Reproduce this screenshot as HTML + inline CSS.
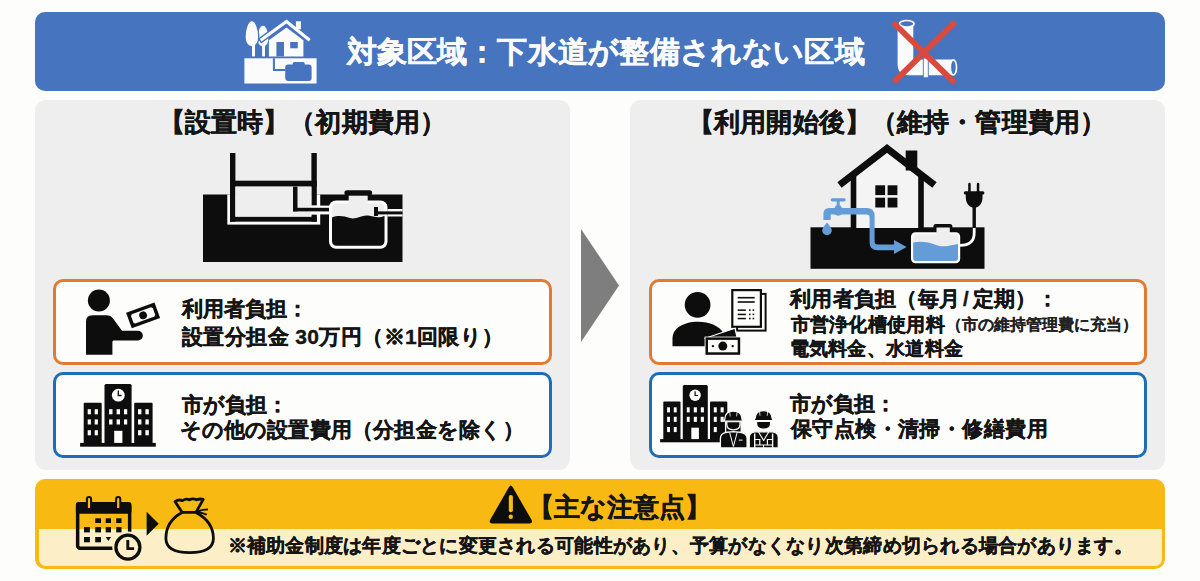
<!DOCTYPE html>
<html lang="ja">
<head>
<meta charset="utf-8">
<title>浄化槽 費用負担</title>
<style>
html,body{margin:0;padding:0;}
body{width:1200px;height:581px;overflow:hidden;background:#FDFDFC;position:relative;font-family:"Liberation Sans",sans-serif;font-weight:bold;color:#151515;}
.abs{position:absolute;}
.t{position:absolute;white-space:nowrap;line-height:1;-webkit-text-stroke:0.35px currentColor;}
.banner{left:35px;top:12px;width:1130px;height:79px;background:#4674BF;border-radius:10px;}
.panel{top:100px;height:370px;background:#EEEEEF;border-radius:11px;}
.box{width:493px;height:80px;border:3px solid;border-radius:10px;background:#FDFDFC;}
.or{border-color:#E07B33;}
.bl{border-color:#1F6DB6;}
.yel{left:35px;top:479px;width:1130px;height:90px;background:#F8BA12;border-radius:10px;}
.cream{left:38.5px;top:529px;width:1123px;height:36.5px;background:#FCEFC8;border-radius:0 0 7px 7px;}
svg.ov{position:absolute;left:0;top:0;}
</style>
</head>
<body>
<div class="abs banner"></div>
<div class="abs panel" style="left:35px;width:535px;"></div>
<div class="abs panel" style="left:630px;width:535px;"></div>
<div class="abs box or" style="left:53px;top:279px;"></div>
<div class="abs box bl" style="left:53px;top:372px;"></div>
<div class="abs box or" style="left:649px;top:279px;width:492px;"></div>
<div class="abs box bl" style="left:649px;top:372px;width:492px;"></div>
<div class="abs yel"></div>
<div class="abs cream"></div>

<svg class="ov" width="1200" height="581" viewBox="0 0 1200 581">
<!-- middle arrow -->
<polygon points="581,229 619,285.5 581,342" fill="#7E7E7E"/>

<!-- banner house icon -->
<g id="bhouse">
 <path d="M263,25.7 C266.5,25.7 268.3,33 268.3,38.5 C268.3,43.5 266,46.4 263,46.4 C260,46.4 257.6,43.5 257.6,38.5 C257.6,33 259.5,25.7 263,25.7Z" fill="#FBFBFB"/>
 <rect x="262.1" y="44" width="2.9" height="12.4" fill="#FBFBFB"/>
 <path d="M251.8,20.7 C256.3,20.7 258.8,30 258.8,37 C258.8,43 255.5,47 251.9,47 C248,47 245,43 245,37 C245,30 247.5,20.7 251.8,20.7Z" fill="#FBFBFB" stroke="#4674BF" stroke-width="1.3"/>
 <rect x="252" y="44" width="3" height="12.4" fill="#FBFBFB"/>
 <polyline points="259.5,41.2 286.5,21.4 310.8,41.2" fill="none" stroke="#4674BF" stroke-width="6"/>
 <rect x="295.9" y="21.3" width="5" height="8" fill="#FBFBFB"/>
 <polyline points="260.7,40.2 286.5,21.4 309.7,40.2" fill="none" stroke="#FBFBFB" stroke-width="3.2"/>
 <path d="M268.9,56.4 V40.3 L286.5,27.4 L303.4,40.3 V56.4 Z" fill="#FBFBFB"/>
 <rect x="276.4" y="42" width="7.6" height="14.4" fill="#4674BF"/>
 <rect x="290.2" y="42" width="7.6" height="6.3" fill="#4674BF"/>
 <rect x="244.4" y="58.3" width="72.2" height="25.2" fill="#FBFBFB"/>
 <path d="M272.9,58.3 H274.9 V69 H285.2 V71 H272.9 Z" fill="#4674BF"/>
 <rect x="285.2" y="64.6" width="26.4" height="16.4" rx="3" fill="#4674BF"/>
 <rect x="292.8" y="62.1" width="11.9" height="4" rx="1.5" fill="#4674BF"/>
</g>

<!-- banner pipe + X -->
<g id="bpipe">
 <path d="M897.6,24 V64 Q897.6,75.3 909,75.3 H953 V59.6 H913.3 V24 Z" fill="#FBFBFB"/>
 <ellipse cx="906.8" cy="23.8" rx="7.3" ry="3.3" fill="#4674BF" stroke="#FBFBFB" stroke-width="1.7"/>
 <rect x="923.3" y="58" width="5" height="19.8" fill="#FBFBFB" stroke="#4674BF" stroke-width="0.9"/>
 <ellipse cx="953.4" cy="67.4" rx="3.1" ry="7.6" fill="#4674BF" stroke="#FBFBFB" stroke-width="1.7"/>
 <g stroke="#D74A3D" stroke-width="5.9">
  <line x1="893.2" y1="22.5" x2="954.7" y2="82.8"/>
  <line x1="955.3" y1="21.9" x2="893.8" y2="82.2"/>
 </g>
</g>

<!-- left tank diagram -->
<g id="ltank">
 <rect x="203" y="194.5" width="199.5" height="67.5" fill="#0D0D0D"/>
 <rect x="227.3" y="194.5" width="92.9" height="30.1" fill="#FDFDFD"/>
 <g fill="#0D0D0D">
  <rect x="230" y="153" width="5.4" height="68.7"/>
  <rect x="311.4" y="153" width="5.4" height="52.6"/>
  <rect x="311.4" y="214.4" width="5.4" height="7.3"/>
  <rect x="230" y="180.7" width="86.8" height="5.9"/>
  <rect x="230" y="216.6" width="86.8" height="5.1"/>
 </g>
 <rect x="235.4" y="186.6" width="76" height="30" fill="#EEEEEF"/>
 <rect x="293" y="186.6" width="4.5" height="24.8" fill="#0D0D0D"/>
 <rect x="311.4" y="205.6" width="20" height="8.8" fill="#FDFDFD"/>
 <rect x="293" y="207.8" width="38" height="3.6" fill="#0D0D0D"/>
 <!-- tank -->
 <rect x="329" y="200.5" width="58.5" height="48.2" rx="7" fill="#FDFDFD"/>
 <rect x="332" y="203.5" width="52.5" height="42.2" rx="5" fill="#EEEEEF"/>
 <rect x="348.7" y="195.4" width="19" height="10" fill="#EEEEEF"/>
 <rect x="344.4" y="190.2" width="27.7" height="5.2" rx="2.5" fill="#0D0D0D"/>
 <path d="M332,217.5 C338,215 344,216 350,218 C356,220 362,214.5 368,215.5 C374,216.5 378,218.5 384.5,216 V240.7 Q384.5,245.7 379.5,245.7 H337 Q332,245.7 332,240.7 Z" fill="#0D0D0D"/>
 <rect x="374" y="207" width="4" height="9" fill="#0D0D0D"/>
 <rect x="387.5" y="209" width="15" height="7.5" fill="#FDFDFD"/>
 <rect x="378" y="211.4" width="24.5" height="3" fill="#0D0D0D"/>
</g>

<!-- right house diagram -->
<g id="rhouse">
 <rect x="810.5" y="227.3" width="174" height="41.5" fill="#0D0D0D"/>
 <path d="M853,228 V178 L887,152 L921,178 V228 Z" fill="#F4F4F4"/>
 <rect x="905.7" y="150.5" width="11.6" height="20" fill="#0D0D0D"/>
 <polyline points="839.5,185 887,148.5 934.5,185" fill="none" stroke="#0D0D0D" stroke-width="7"/>
 <rect x="850.7" y="176" width="5.6" height="52" fill="#0D0D0D"/>
 <rect x="918.2" y="176" width="5.6" height="52" fill="#0D0D0D"/>
 <g fill="#0D0D0D">
  <rect x="875.3" y="185.3" width="9.8" height="9.8"/>
  <rect x="887.6" y="185.3" width="9.8" height="9.8"/>
  <rect x="875.3" y="197.7" width="9.8" height="9.8"/>
  <rect x="887.6" y="197.7" width="9.8" height="9.8"/>
 </g>
 <!-- faucet + pipe -->
 <g fill="#639CD7">
  <rect x="830.7" y="198.2" width="15" height="3.2" rx="1.6"/>
  <rect x="836.7" y="200.5" width="3" height="6.5"/>
  <path d="M834.2,208.5 L836,205.6 H840.5 L842.3,208.5 Z"/>
  <path d="M823.4,220.1 V214.1 Q823.4,208.1 829.4,208.1 H866.6 Q874.6,208.1 874.6,216.1 V241.5 Q874.6,244.5 877.6,244.5 H895 V250.2 H877.6 Q869.6,250.2 869.6,242.2 V217.4 Q869.6,214.4 866.6,214.4 H830.7 V220.1 Z"/>
  <path d="M834.5,214 Q838.2,217.5 842,214 Z"/>
  <polygon points="894,240 906.6,247 894,253.9"/>
  <path d="M827,222.5 Q831.8,228 831.8,230.4 A4.8,4.8 0 0 1 822.2,230.4 Q822.2,228 827,222.5 Z"/>
 </g>
 <!-- tank -->
 <rect x="911" y="232.2" width="49.2" height="31.1" rx="4.5" fill="#FDFDFD"/>
 <rect x="913.2" y="234.4" width="44.8" height="26.7" rx="3" fill="#EEEEEE"/>
 <rect x="933.4" y="224" width="19" height="5.5" rx="2.5" fill="#0D0D0D"/>
 <rect x="936.5" y="227.5" width="13.3" height="8" fill="#EEEEEE"/>
 <path d="M913.2,242.6 C920,241 928,242 936,245 C944,248 950,245 958,243.9 V258.1 Q958,261.1 955,261.1 H916.2 Q913.2,261.1 913.2,258.1 Z" fill="#639CD7"/>
 <!-- cord + plug -->
 <path d="M960,245.4 Q974.2,245.4 974.2,233 V227" fill="none" stroke="#FDFDFD" stroke-width="2.8"/>
 <path d="M974.2,228 V205" fill="none" stroke="#0D0D0D" stroke-width="3.4"/>
 <rect x="968.2" y="182.8" width="2.5" height="10" rx="1.2" fill="#0D0D0D"/>
 <rect x="976.8" y="182.8" width="2.5" height="10" rx="1.2" fill="#0D0D0D"/>
 <rect x="963.8" y="191.2" width="20.6" height="3.2" rx="1.5" fill="#0D0D0D"/>
 <path d="M965.8,193.5 H982.5 V197.5 C982.5,203.5 979,206.6 976.2,207.6 H972.2 C969.4,206.6 965.8,203.5 965.8,197.5 Z" fill="#0D0D0D"/>
</g>

<!-- left orange: person with bill -->
<g id="lperson" fill="#0D0D0D">
 <circle cx="98.9" cy="300.5" r="11"/>
 <path d="M86,354.7 V321.5 Q86,315.3 92.5,315.3 H106.5 Q110.5,315.3 113,318.5 L122,330.8 H138 A4.85,4.85 0 0 1 138,340.5 H113.5 Q112.4,340.5 112.4,342 V354.7 Z"/>
 <g transform="translate(143.1,315.35) rotate(-20.1)">
  <rect x="-15.1" y="-8.25" width="30.2" height="16.5"/>
  <path d="M-10.3,-4.9 H10.3 L11.6,-3.6 V3.6 L10.3,4.9 H-10.3 L-11.6,3.6 V-3.6 Z" fill="#FDFDFC"/>
  <circle cx="0" cy="0" r="3.9"/>
 </g>
</g>

<!-- left blue: building -->
<g id="lbuild">
 <g fill="#0D0D0D">
  <rect x="80.1" y="442.9" width="75.7" height="3.8"/>
  <rect x="83.7" y="402.8" width="18" height="41" rx="1"/>
  <rect x="104.5" y="384.1" width="27.1" height="60" rx="1.5"/>
  <rect x="134.2" y="402.8" width="18.4" height="41" rx="1"/>
 </g>
 <circle cx="118.3" cy="395.2" r="6.4" fill="#FDFDFC"/>
 <path d="M118.3,390.6 V395.5 H121.6" fill="none" stroke="#0D0D0D" stroke-width="1.3"/>
 <g fill="#FDFDFC">
  <rect x="87.7" y="409.2" width="3.2" height="5.1"/><rect x="94.7" y="409.2" width="3.2" height="5.1"/>
  <rect x="87.7" y="419.4" width="3.2" height="5.1"/><rect x="94.7" y="419.4" width="3.2" height="5.1"/>
  <rect x="87.7" y="430.2" width="3.2" height="5.1"/><rect x="94.7" y="430.2" width="3.2" height="5.1"/>
  <rect x="109.1" y="409.2" width="3.4" height="5.1"/><rect x="116.6" y="409.2" width="3.4" height="5.1"/><rect x="124" y="409.2" width="3.2" height="5.1"/>
  <rect x="109.1" y="419.4" width="3.4" height="5.1"/><rect x="116.6" y="419.4" width="3.4" height="5.1"/><rect x="124" y="419.4" width="3.2" height="5.1"/>
  <rect x="114.2" y="430.8" width="8.2" height="12.1"/>
  <rect x="138" y="409.2" width="3.4" height="5.1"/><rect x="145.4" y="409.2" width="3.4" height="5.1"/>
  <rect x="138" y="419.4" width="3.4" height="5.1"/><rect x="145.4" y="419.4" width="3.4" height="5.1"/>
  <rect x="138" y="430.2" width="3.4" height="5.1"/><rect x="145.4" y="430.2" width="3.4" height="5.1"/>
 </g>
</g>

<!-- right orange: person, documents, bills -->
<g id="rperson">
 <circle cx="697.6" cy="304.8" r="12.9" fill="#0D0D0D"/>
 <path d="M672.5,346.2 V338.5 C672.5,327.5 685,321.8 697.6,321.8 C710,321.8 719.5,326.5 723,332.5 V346.2 Z" fill="#0D0D0D"/>
 <rect x="737.1" y="293.9" width="28.5" height="36.7" fill="#FDFDFC" stroke="#0D0D0D" stroke-width="2"/>
 <rect x="732.3" y="290.1" width="28.6" height="36.7" fill="#FDFDFC" stroke="#0D0D0D" stroke-width="2.2"/>
 <g fill="#0D0D0D">
  <rect x="737.7" y="296.9" width="17" height="1.6"/>
  <rect x="737.7" y="301.2" width="17" height="1.6"/>
  <rect x="737.7" y="309.4" width="8.2" height="1.5"/><rect x="749" y="309.3" width="1.6" height="1.6"/><rect x="752.6" y="309.3" width="1.6" height="1.6"/>
  <rect x="737.7" y="313.7" width="8.2" height="1.5"/><rect x="749" y="313.6" width="1.6" height="1.6"/><rect x="752.6" y="313.6" width="1.6" height="1.6"/>
  <rect x="737.7" y="317.8" width="8.2" height="1.5"/><rect x="749" y="317.7" width="1.6" height="1.6"/><rect x="752.6" y="317.7" width="1.6" height="1.6"/>
 </g>
 <polygon points="704.5,338.5 735,328.3 737.3,338.5" fill="#0D0D0D" stroke="#FDFDFC" stroke-width="1.2"/>
 <rect x="704.6" y="336.6" width="36.4" height="19" fill="#FDFDFC"/>
 <rect x="705.5" y="337.4" width="34.7" height="17.4" fill="#0D0D0D"/>
 <rect x="708" y="339.9" width="29.7" height="12.4" fill="#FDFDFC"/>
 <circle cx="722.8" cy="346.1" r="4.5" fill="#0D0D0D"/>
 <circle cx="712.9" cy="346.1" r="1.2" fill="#0D0D0D"/>
 <circle cx="732.7" cy="346.1" r="1.2" fill="#0D0D0D"/>
</g>

<!-- right blue: building + workers -->
<g id="rbuild">
 <g fill="#0D0D0D">
  <rect x="660.1" y="439.1" width="63.7" height="3.2"/>
  <rect x="663.3" y="401.6" width="17.2" height="39" rx="1"/>
  <rect x="682.8" y="385" width="25" height="55" rx="1.5"/>
  <rect x="710" y="401.6" width="17.3" height="39" rx="1"/>
 </g>
 <circle cx="695.1" cy="395.2" r="5.7" fill="#FDFDFC"/>
 <path d="M695.1,391.3 V395.5 H698" fill="none" stroke="#0D0D0D" stroke-width="1.2"/>
 <g fill="#FDFDFC">
  <rect x="667.1" y="407.3" width="2.9" height="5.1"/><rect x="673.8" y="407.3" width="2.9" height="5.1"/>
  <rect x="667.1" y="416.8" width="2.9" height="5.1"/><rect x="673.8" y="416.8" width="2.9" height="5.1"/>
  <rect x="667.1" y="427" width="2.9" height="5.1"/><rect x="673.8" y="427" width="2.9" height="5.1"/>
  <rect x="686.8" y="407.3" width="2.9" height="5.1"/><rect x="693.8" y="407.3" width="3.1" height="5.1"/><rect x="700.8" y="407.3" width="3.1" height="5.1"/>
  <rect x="686.8" y="416.8" width="2.9" height="5.1"/><rect x="693.8" y="416.8" width="3.1" height="5.1"/><rect x="700.8" y="416.8" width="3.1" height="5.1"/>
  <rect x="691.3" y="427.7" width="7.6" height="11.4"/>
  <rect x="713.8" y="407.3" width="3" height="5.1"/><rect x="720.6" y="407.3" width="3.1" height="5.1"/>
  <rect x="713.8" y="416.8" width="3" height="5.1"/><rect x="720.6" y="416.8" width="3.1" height="5.1"/>
  <rect x="713.8" y="427" width="3" height="5.1"/>
 </g>
 <!-- worker 1 -->
 <g fill="#0D0D0D" stroke="#FDFDFC" stroke-width="1.3">
  <path d="M725.6,421.5 V432.5 H741.2 V421.5 Z"/>
  <path d="M720.4,448 V438.5 Q720.4,433.2 726.5,432.3 L733.4,431.6 L740.3,432.3 Q747.1,433.2 747.1,438.5 V448 Z"/>
  <path d="M726.8,421.6 H740 V424.6 Q740,429.8 733.4,429.8 Q726.8,429.8 726.8,424.6 Z"/>
  <path d="M723.8,421.2 L724.8,419 Q725.3,411.2 733.4,411.2 Q741.5,411.2 742,419 L743,421.2 Z"/>
 </g>
 <g fill="none" stroke="#FDFDFC">
  <path d="M729.6,432.4 L733.4,446.5 L737.2,432.4" stroke-width="1"/>
  <path d="M729.8,412.4 L730.2,416.4 M737,412.4 L736.6,416.4" stroke-width="0.8"/>
 </g>
 <rect x="738.8" y="439.6" width="3.8" height="1" fill="#FDFDFC"/>
 <!-- worker 2 -->
 <g fill="#0D0D0D" stroke="#FDFDFC" stroke-width="1.3">
  <path d="M749.2,448 V437.5 Q749.2,432.4 755,431.8 H772.5 Q778.3,432.4 778.3,437.5 V448 Z"/>
  <path d="M756.6,421.3 H770.6 V423.8 Q770.6,429.2 763.6,429.2 Q756.6,429.2 756.6,423.8 Z"/>
  <path d="M753.9,420.6 L755,418.4 Q755.5,410.6 763.6,410.6 Q771.7,410.6 772.2,418.4 L773.3,420.6 Z"/>
 </g>
 <g fill="none" stroke="#FDFDFC">
  <path d="M758.5,432 L763.6,440.5 L768.7,432" stroke-width="1.1"/>
  <path d="M754.7,433.5 V448 M772.6,433.5 V448" stroke-width="1.4"/>
  <path d="M754.7,439.5 H759.8 V445 M772.6,439.5 H767.4 V445 M754.7,445 H772.6" stroke-width="1.2"/>
  <path d="M763.6,445 V448" stroke-width="1"/>
  <path d="M759.6,411.8 L760,415.8 M767.6,411.8 L767.2,415.8" stroke-width="0.8"/>
 </g>
</g>

<!-- yellow banner icons -->
<g id="cal">
 <rect x="77.65" y="503.65" width="52" height="44.5" rx="2.5" fill="none" stroke="#0D0D0D" stroke-width="3.5"/>
 <rect x="75.9" y="501.9" width="55.5" height="11.8" rx="2.5" fill="#0D0D0D"/>
 <path d="M86.9,508 V499.2 A2.1,2.1 0 0 1 91.1,499.2 V508" fill="#F8BA12" stroke="#0D0D0D" stroke-width="2"/>
 <path d="M116.1,508 V499.2 A2.1,2.1 0 0 1 120.3,499.2 V508" fill="#F8BA12" stroke="#0D0D0D" stroke-width="2"/>
 <g fill="#0D0D0D">
  <rect x="95.2" y="518.3" width="5.8" height="4.7"/><rect x="105.7" y="518.3" width="5.3" height="4.7"/><rect x="116.2" y="518.3" width="5.3" height="4.7"/>
  <rect x="84" y="527.1" width="5.9" height="5.3"/><rect x="95.2" y="527.1" width="5.8" height="5.3"/><rect x="105.7" y="527.1" width="5.3" height="5.3"/><rect x="116.2" y="527.1" width="5.3" height="5.3"/>
  <rect x="84" y="537" width="5.9" height="5.3"/><rect x="95.2" y="537" width="5.8" height="5.3"/>
  <polygon points="105.7,537 111,537 108.4,541"/>
 </g>
 <circle cx="127.9" cy="547.2" r="15.6" fill="#FCEFC8"/>
 <circle cx="127.9" cy="547.2" r="12" fill="none" stroke="#0D0D0D" stroke-width="3.3"/>
 <path d="M127.8,539.9 V548.6 H134.1" fill="none" stroke="#0D0D0D" stroke-width="2.9"/>
</g>
<polygon points="146.6,511.7 158.7,523.7 146.6,535.8" fill="#0D0D0D"/>
<g id="bag" fill="none" stroke="#0D0D0D" stroke-width="2.8" stroke-linejoin="round">
 <path d="M175,501.6 Q178.5,499 182.5,500.6 Q186,498.2 189.5,499.8 Q193,497.8 196.5,499.8 Q200,498.4 203.2,499.4 L196,512.3 H182.1 Z"/>
 <path d="M182.1,512.6 C170,519 165.9,528 165.9,538.5 C165.9,549 176,552.6 189.6,552.6 C203,552.6 213.4,549 213.4,538.5 C213.4,528 208,519 196,512.6"/>
 <path d="M197.5,511.3 Q202.5,509.5 208,509.3 M197.5,511.8 Q202.5,513 206.8,514.7" stroke-width="1.8"/>
</g>
<g id="warn">
 <path d="M509,487 Q510.8,484 512.6,487 L531.5,519.8 Q533.2,523.4 529.5,523.4 H492.2 Q488.5,523.4 490.2,519.8 Z" fill="#0D0D0D"/>
 <rect x="508.8" y="494.9" width="4.1" height="17.3" rx="2" fill="#F8BA12"/>
 <circle cx="510.8" cy="516.8" r="2.2" fill="#F8BA12"/>
</g>
</svg>

<!-- texts -->
<div class="t" style="left:346.5px;top:37px;font-size:30px;letter-spacing:0.2px;color:#FBFBFB;">対象区域：下水道が整備されない区域</div>
<div class="t" style="left:158.5px;top:109px;font-size:26px;letter-spacing:0.15px;">【設置時】（初期費用）</div>
<div class="t" style="left:688px;top:109px;font-size:26px;letter-spacing:0.13px;">【利用開始後】（維持・管理費用）</div>

<div class="t" style="left:182px;top:298px;font-size:21px;">利用者負担：</div>
<div class="t" style="left:182px;top:326px;font-size:21px;letter-spacing:0.4px;">設置分担金 30万円（※1回限り）</div>
<div class="t" style="left:182px;top:394px;font-size:21px;">市が負担：</div>
<div class="t" style="left:179.5px;top:419px;font-size:21px;letter-spacing:0.2px;">その他の設置費用（分担金を除く）</div>

<div class="t" style="left:790px;top:289px;font-size:20.5px;letter-spacing:0.25px;">利用者負担（毎月<span style="padding:0 4px 0 3px">/</span>定期）：</div>
<div class="t" style="left:790.5px;top:314.5px;font-size:19px;letter-spacing:0.3px;">市営浄化槽使用料</div>
<div class="t" style="left:946.3px;top:317px;font-size:16px;-webkit-text-stroke:0.1px currentColor;color:#222;">（市の維持管理費に充当）</div>
<div class="t" style="left:789.5px;top:339px;font-size:19px;letter-spacing:0.3px;">電気料金、水道料金</div>
<div class="t" style="left:790px;top:393px;font-size:21px;">市が負担：</div>
<div class="t" style="left:790.8px;top:418px;font-size:21px;letter-spacing:0.45px;">保守点検・清掃・修繕費用</div>

<div class="t" style="left:528px;top:494px;font-size:26px;">【主な注意点】</div>
<div class="t" style="left:227.5px;top:536px;font-size:19.2px;letter-spacing:0.265px;">※補助金制度は年度ごとに変更される可能性があり、予算がなくなり次第締め切られる場合があります。</div>
</body>
</html>
